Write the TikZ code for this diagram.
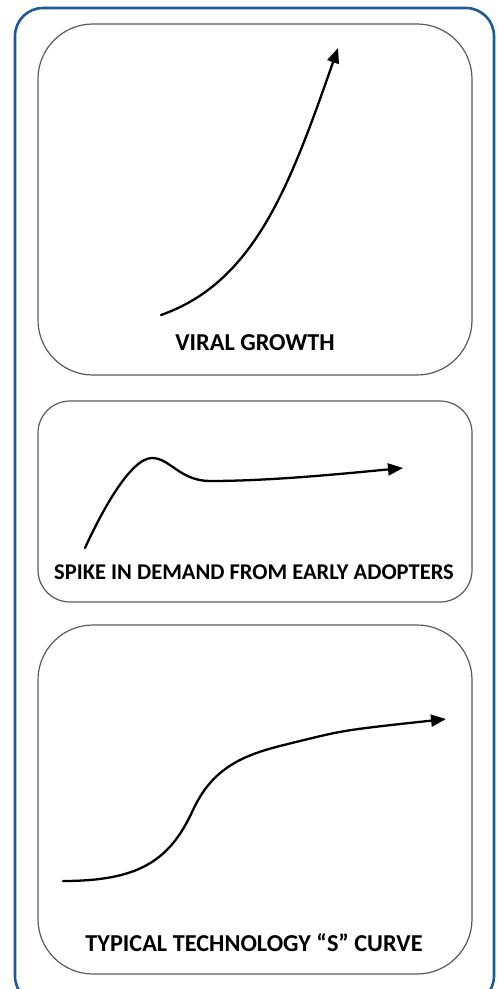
\documentclass[tikz,border=0pt]{standalone}
\usepackage{fontspec}
\setmainfont{Carlito}
\usepackage{tikz}
\usetikzlibrary{calc,shapes,positioning}
\usetikzlibrary{arrows.meta}
\tikzset{>={Triangle[width=12pt,length=15pt]}}
\definecolor{frameblue}{RGB}{31,90,150}
\definecolor{boxgray}{RGB}{90,90,90}

\begin{document}
\begin{tikzpicture}[x=1pt,y=-1pt]
          \tikzstyle{panel} = [draw=boxgray, line width=1.2pt, rectangle, minimum width=434pt, inner sep=0pt]
          \tikzstyle{lbl} = [font=\bfseries, inner sep=0pt, anchor=center]
          \tikzstyle{curve} = [line width=2.3pt, ->, line cap=round]
          \useasboundingbox (0,0) rectangle (497,989);

          \draw[frameblue, line width=2.6pt, rounded corners=28pt] (15,8) rectangle (494,1004);

          \node[panel, rounded corners=55pt, minimum height=351pt] (viral) at (255,199.5) {};
          \node[panel, rounded corners=32pt, minimum height=201pt] (spike) at (255,501.5) {};
          \node[panel, rounded corners=55pt, minimum height=349pt] (scurve) at (255,799.5) {};

          \node[lbl, font=\bfseries\fontsize{24.3}{28}\selectfont] (tv) at (255,343) {VIRAL GROWTH};
          \node[lbl, font=\bfseries\fontsize{22.5}{26}\selectfont] (ts) at (254,572) {SPIKE IN DEMAND FROM EARLY ADOPTERS};
          \node[lbl, font=\bfseries\fontsize{24.3}{28}\selectfont] (tc) at (254,943) {TYPICAL TECHNOLOGY “S” CURVE};

          \draw[curve] (161,315) .. controls (255,282) and (290,185) .. (338,48);
          \draw[curve] (85,548) .. controls (100,515) and (130,458) .. (152,458)
                       .. controls (170,458) and (180,481) .. (210,481)
                       .. controls (270,481) and (340,474) .. (403,468);
          \draw[curve] (63,881) .. controls (140,881) and (170,860) .. (193,810)
                       .. controls (216,760) and (255,752) .. (300,741)
                       .. controls (345,730) .. (446,719);
        \end{tikzpicture}
\end{document}
